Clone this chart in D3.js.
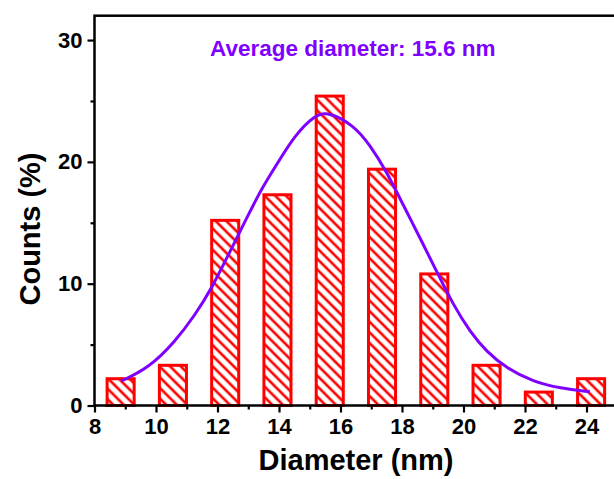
<!DOCTYPE html>
<html>
<head>
<meta charset="utf-8">
<script src="https://cdn.jsdelivr.net/npm/d3@7"></script>
<style>
  body { margin: 0; background: #fff; }
  svg { display: block; font-family: "Liberation Sans", Arial, sans-serif; }
</style>
</head>
<body>
<div id="chart"></div>
<script>
// Histogram bins (centre of each bin, nm) and counts (%)
var binCenters = [8.85, 10.55, 12.25, 13.95, 15.65, 17.35, 19.05, 20.75, 22.45, 24.15];
var counts = [2.2, 3.3, 15.2, 17.3, 25.4, 19.4, 10.8, 3.3, 1.1, 2.2];
var binWidth = 0.88;

// Gaussian fit, points
var fitX = [8.86, 9.75, 10.62, 11.27, 11.81, 12.35, 13.0, 13.44, 13.98, 14.52, 15.17, 15.6,
            16.42, 16.96, 17.5, 18.04, 18.59, 19.13, 19.67, 20.21, 20.75, 21.4, 22.27, 23.14, 24.11];
var fitY = [2.0, 3.05, 5.24, 7.43, 9.62, 12.36, 15.64, 17.83, 20.0, 22.2, 23.85, 24.12,
            23.03, 21.39, 19.2, 16.46, 13.73, 10.99, 8.25, 6.06, 4.42, 3.05, 1.95, 1.41, 1.13];

// Axis ticks
var xMajor = [8, 10, 12, 14, 16, 18, 20, 22, 24];
var xMinor = [9, 11, 13, 15, 17, 19, 21, 23, 25];
var yMajor = [0, 10, 20, 30];
var yMinor = [5, 15, 25];

var title = "Average diameter: 15.6 nm";

// Canvas parameters
var canvas = { width: 614, height: 479 };
var plot = { left: 94.5, right: 617.25, top: 15.7, bottom: 405.5 };
var purple = "#7f00ff";

var svg = d3.select("#chart")
  .append("svg")
  .attr("width", canvas.width)
  .attr("height", canvas.height);

var x = d3.scaleLinear().domain([8, 25]).range([plot.left, plot.right]);
var y = d3.scaleLinear().domain([0, 32]).range([plot.bottom, plot.top]);

// Hatch pattern for bars
var defs = svg.append("defs");
var pat = defs.append("pattern")
  .attr("id", "hatch")
  .attr("patternUnits", "userSpaceOnUse")
  .attr("width", 7.5)
  .attr("height", 7.5)
  .attr("patternTransform", "rotate(45)");
pat.append("rect").attr("width", 7.5).attr("height", 7.5).attr("fill", "white");
pat.append("line")
  .attr("x1", 0).attr("y1", 3.75)
  .attr("x2", 7.5).attr("y2", 3.75)
  .attr("stroke", "#ff0000")
  .attr("stroke-width", 2.6);

// Bars
svg.selectAll("rect.bar")
  .data(counts)
  .enter()
  .append("rect")
  .attr("class", "bar")
  .attr("x", function(d, i) { return x(binCenters[i] - binWidth / 2); })
  .attr("y", function(d) { return y(d); })
  .attr("width", function(d, i) { return x(binCenters[i] + binWidth / 2) - x(binCenters[i] - binWidth / 2); })
  .attr("height", function(d) { return y(0) - y(d); })
  .attr("fill", "url(#hatch)")
  .attr("stroke", "#ff0000")
  .attr("stroke-width", 3);

// Fit curve
var line = d3.line()
  .x(function(d) { return x(d[0]); })
  .y(function(d) { return y(d[1]); })
  .curve(d3.curveBasis);

svg.append("path")
  .datum(d3.zip(fitX, fitY))
  .attr("d", line)
  .attr("fill", "none")
  .attr("stroke", purple)
  .attr("stroke-width", 3);

// Axes
function styleAxis(g) {
  g.select(".domain").remove();
  g.selectAll(".tick line").attr("stroke", "#000").attr("stroke-width", 2.2);
  g.selectAll(".tick text")
    .attr("font-size", "22px")
    .attr("font-weight", "bold")
    .attr("fill", "#000");
}

svg.append("g")
  .attr("transform", "translate(0," + plot.bottom + ")")
  .call(d3.axisBottom(x).tickValues(xMajor).tickSize(7).tickPadding(6).tickFormat(d3.format("d")))
  .call(styleAxis);

svg.append("g")
  .attr("transform", "translate(0," + plot.bottom + ")")
  .call(d3.axisBottom(x).tickValues(xMinor).tickSize(4).tickFormat(""))
  .call(styleAxis);

svg.append("g")
  .attr("transform", "translate(" + plot.left + ",0)")
  .call(d3.axisLeft(y).tickValues(yMajor).tickSize(7).tickPadding(5).tickFormat(d3.format("d")))
  .call(styleAxis);

svg.append("g")
  .attr("transform", "translate(" + plot.left + ",0)")
  .call(d3.axisLeft(y).tickValues(yMinor).tickSize(4).tickFormat(""))
  .call(styleAxis);

// Frame
svg.append("rect")
  .attr("x", plot.left)
  .attr("y", plot.top)
  .attr("width", plot.right - plot.left)
  .attr("height", plot.bottom - plot.top)
  .attr("fill", "none")
  .attr("stroke", "#000")
  .attr("stroke-width", 2.5);

// Axis titles
svg.append("text")
  .attr("x", 356)
  .attr("y", 470)
  .attr("text-anchor", "middle")
  .attr("font-size", "29px")
  .attr("font-weight", "bold")
  .text("Diameter (nm)");

svg.append("text")
  .attr("transform", "translate(40,229) rotate(-90)")
  .attr("text-anchor", "middle")
  .attr("font-size", "29px")
  .attr("font-weight", "bold")
  .text("Counts (%)");

// Annotation
svg.append("text")
  .attr("x", 210)
  .attr("y", 56)
  .attr("font-size", "22.5px")
  .attr("font-weight", "bold")
  .attr("fill", purple)
  .text(title);
</script>
</body>
</html>
